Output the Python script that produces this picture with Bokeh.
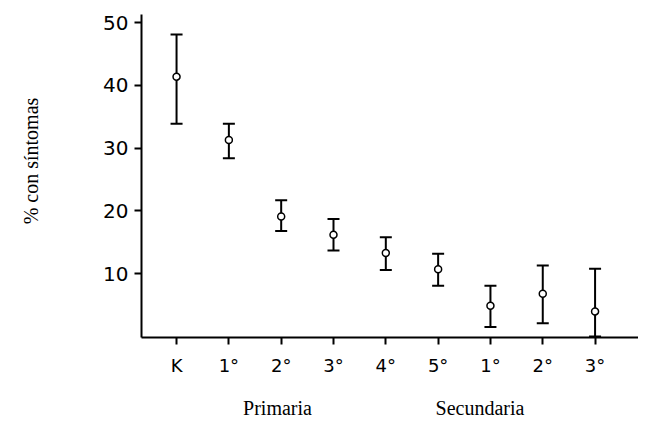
from bokeh.plotting import figure
from bokeh.models import ColumnDataSource, Whisker, TeeHead, FixedTicker, Range1d, LinearAxis
from bokeh.embed import file_html
from bokeh.resources import INLINE

categories = ["K", "1°", "2°", "3°", "4°", "5°", "1°", "2°", "3°"]
means = [41.4, 31.3, 19.1, 16.2, 13.3, 10.7, 4.9, 6.8, 4.0]
upper = [48.1, 33.9, 21.7, 18.7, 15.8, 13.2, 8.1, 11.3, 10.8]
lower = [33.9, 28.4, 16.8, 13.7, 10.6, 8.1, 1.5, 2.1, 0.0]
y_ticks = [10, 20, 30, 40, 50]
group_labels = ["Primaria", "Secundaria"]
group_pos = [1.93, 5.8]

xs = list(range(len(categories)))
src = ColumnDataSource(dict(x=xs, y=means, upper=upper, lower=lower))

p = figure(width=638, height=421, output_backend="svg", toolbar_location=None,
           x_range=Range1d(-0.67, 8.83), y_range=Range1d(-0.16, 51.3),
           min_border_left=141, min_border_right=0, min_border_top=14, min_border_bottom=20)
p.grid.visible = False
p.outline_line_color = None
p.background_fill_color = "white"

w = Whisker(source=src, base="x", upper="upper", lower="lower", line_color="black", line_width=2,
            upper_head=TeeHead(size=12, line_width=2, line_color="black"),
            lower_head=TeeHead(size=12, line_width=2, line_color="black"))
p.add_layout(w)
p.scatter("x", "y", source=src, size=7, fill_color="white", line_color="black", line_width=1.5)

ax = p.xaxis[0]
ax.ticker = FixedTicker(ticks=xs)
ax.major_label_overrides = {i: c for i, c in enumerate(categories)}
ax.minor_tick_line_color = None
ax.major_tick_in = 0
ax.major_tick_out = 7
ax.major_tick_line_width = 2
ax.axis_line_width = 2
ax.major_label_text_font = "DejaVu Sans"
ax.major_label_text_font_size = "18px"
ax.major_label_text_color = "black"
ax.major_label_standoff = 10

gx = LinearAxis(ticker=FixedTicker(ticks=group_pos),
                major_label_overrides={pos: name for pos, name in zip(group_pos, group_labels)})
gx.axis_line_color = None
gx.major_tick_line_color = None
gx.minor_tick_line_color = None
gx.major_label_standoff = 12
gx.major_label_text_font = "Liberation Serif"
gx.major_label_text_font_size = "20px"
gx.major_label_text_color = "black"
p.add_layout(gx, "below")

ay = p.yaxis[0]
ay.ticker = FixedTicker(ticks=y_ticks)
ay.minor_tick_line_color = None
ay.major_tick_in = 0
ay.major_tick_out = 7
ay.major_tick_line_width = 2
ay.axis_line_width = 2
ay.major_label_text_font = "DejaVu Sans"
ay.major_label_text_font_size = "20px"
ay.major_label_text_color = "black"
ay.major_label_standoff = 6
ay.axis_label = "\u00a0" * 6 + "% con síntomas"
ay.axis_label_text_font = "Liberation Serif"
ay.axis_label_text_font_style = "normal"
ay.axis_label_text_font_size = "20px"
ay.axis_label_text_color = "black"
ay.axis_label_standoff = 58

open("out.html", "w").write(file_html(p, INLINE))
